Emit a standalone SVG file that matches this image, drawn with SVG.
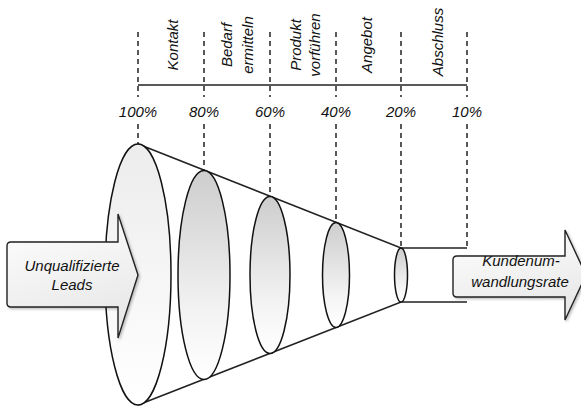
<svg xmlns="http://www.w3.org/2000/svg" width="581" height="406" viewBox="0 0 581 406">
<style>
.t{font-family:"Liberation Sans",Arial,sans-serif;font-style:italic;font-size:15px;fill:#111}
.dash{stroke:#222;stroke-width:1.5;stroke-dasharray:5 4;fill:none}
.ln{stroke:#222;stroke-width:1.6;fill:none}
.el{stroke:#111;stroke-width:1.5}
.arr{fill:url(#ga);stroke:#222;stroke-width:1.4;filter:url(#sh)}
</style>
<defs>
<linearGradient id="g0" x1="0" y1="0" x2="0" y2="1"><stop offset="0" stop-color="#ececec"/><stop offset="1" stop-color="#ffffff"/></linearGradient>
<linearGradient id="g1" x1="0" y1="0" x2="0" y2="1"><stop offset="0" stop-color="#cdcdcd"/><stop offset="0.7" stop-color="#f4f4f4"/><stop offset="1" stop-color="#ffffff"/></linearGradient>
<linearGradient id="ga" x1="0" y1="0" x2="0.3" y2="1"><stop offset="0" stop-color="#ffffff"/><stop offset="1" stop-color="#e8e8e8"/></linearGradient>
<filter id="sh" x="-10%" y="-10%" width="130%" height="130%"><feDropShadow dx="1.5" dy="1.5" stdDeviation="1.2" flood-color="#000" flood-opacity="0.25"/></filter>
</defs>

<g id="scale">
<line class="ln" x1="138" y1="85" x2="467" y2="85"/>
<text class="t" x="138" y="117" text-anchor="middle">100%</text>
<text class="t" x="204" y="117" text-anchor="middle">80%</text>
<text class="t" x="270" y="117" text-anchor="middle">60%</text>
<text class="t" x="336" y="117" text-anchor="middle">40%</text>
<text class="t" x="401" y="117" text-anchor="middle">20%</text>
<text class="t" x="467" y="117" text-anchor="middle">10%</text>
</g>

<g id="phases">
<text class="t" text-anchor="middle" transform="translate(178,45) rotate(-90)">Kontakt</text>
<text class="t" text-anchor="middle" transform="translate(232,45) rotate(-90)">Bedarf</text>
<text class="t" text-anchor="middle" transform="translate(252.5,45) rotate(-90)">ermitteln</text>
<text class="t" text-anchor="middle" transform="translate(300.5,45) rotate(-90)">Produkt</text>
<text class="t" text-anchor="middle" transform="translate(320,45) rotate(-90)">vorführen</text>
<text class="t" text-anchor="middle" transform="translate(372,45) rotate(-90)">Angebot</text>
<text class="t" text-anchor="middle" transform="translate(443,42) rotate(-90)">Abschluss</text>
</g>

<g id="connectors">
<path class="dash" d="M138 32V97M138 124V144"/>
<path class="dash" d="M204 32V97M204 124V171"/>
<path class="dash" d="M270 32V97M270 124V197"/>
<path class="dash" d="M336 32V97M336 124V222"/>
<path class="dash" d="M401 32V97M401 124V248"/>
<path class="dash" d="M467 32V97M467 124V248"/>
<path class="ln" d="M138 144L401 248H467M138 405L401 302H467"/>
</g>

<g id="funnel">
<ellipse id="e100" class="el" cx="138" cy="274.5" rx="33" ry="130.5" fill="url(#g0)"/>
<ellipse id="e80" class="el" cx="204" cy="275" rx="26" ry="104.5" fill="url(#g1)"/>
<ellipse id="e60" class="el" cx="270" cy="275" rx="20" ry="78.5" fill="url(#g1)"/>
<ellipse id="e40" class="el" cx="336" cy="275" rx="13.5" ry="52.5" fill="url(#g1)"/>
<ellipse id="e20" class="el" cx="401" cy="275" rx="6.5" ry="27" fill="url(#g1)"/>
</g>

<g id="leads">
<path class="arr" d="M11 242H118V214L138 275L118 338V307H11Q7 307 7 303V246Q7 242 11 242Z"/>
<text class="t" x="72" y="271" text-anchor="middle">Unqualifizierte</text>
<text class="t" x="72" y="290" text-anchor="middle">Leads</text>
</g>

<g id="rate">
<path class="arr" d="M457 256H565V230L586 275L565 320V297H457Q453 297 453 293V260Q453 256 457 256Z"/>
<text class="t" x="521" y="266" text-anchor="middle">Kundenum-</text>
<text class="t" x="520" y="287" text-anchor="middle">wandlungsrate</text>
</g>
</svg>
